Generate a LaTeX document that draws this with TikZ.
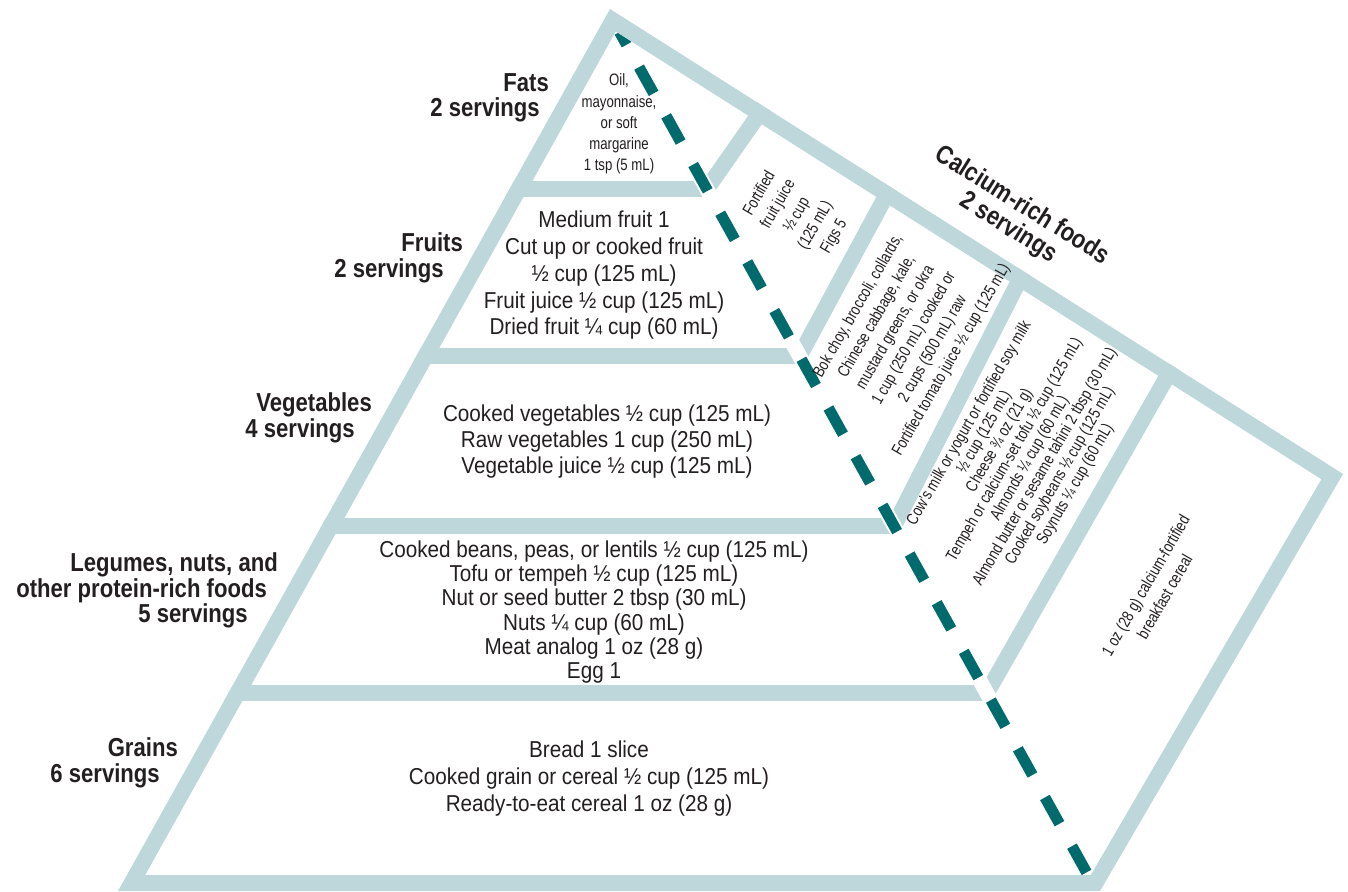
\documentclass[tikz,border=0pt]{standalone}
\usepackage{fontspec}
\setmainfont{Liberation Sans}
\newfontfamily\regf{Liberation Sans}[FakeStretch=0.9]
\newfontfamily\smf{Liberation Sans}[FakeStretch=0.8]
\newfontfamily\bldf{Liberation Sans}[FakeStretch=0.85]
\definecolor{ink}{HTML}{231F20}
\definecolor{barc}{HTML}{BDD7DB}
\definecolor{dashc}{HTML}{006A6C}
\begin{document}
\begin{tikzpicture}[x=1pt,y=-1pt,
  bar/.style={draw=barc,line width=16pt,line cap=butt},
  body/.style={font=\regf\fontsize{23}{#1}\selectfont,text=ink,align=center,inner sep=0pt},
  small/.style={font=\smf\fontsize{16.5}{#1}\selectfont,text=ink,align=center,inner sep=0pt},
  lbl/.style={font=\bldf\bfseries\fontsize{26}{26}\selectfont,text=ink,inner sep=0pt,anchor=base east},
  clbl/.style={font=\bldf\bfseries\fontsize{26}{#1}\selectfont,text=ink,align=center,inner sep=0pt}]
\useasboundingbox (0,0) rectangle (1348,891);
\fill[white] (0,0) rectangle (1348,891);
% outer frame
\coordinate (A) at (610,9);
\coordinate (BL) at (118,891);
\coordinate (BR) at (1100,891);
\coordinate (RC) at (1343,474);
% dashed pyramid side
\coordinate (D0) at (619.5,32);
\coordinate (D1) at (1088,875);
% meeting points of tier bars and calcium dividers
\coordinate (M1) at (706.7,189);
\coordinate (M2) at (799.5,356);
\coordinate (M3) at (894,526);
\coordinate (M4) at (986.8,693);
\coordinate (L1) at (0,189);
\coordinate (L2) at (0,356);
\coordinate (L3) at (0,526);
\coordinate (L4) at (0,693);
\begin{scope}
\clip (A)--(BL)--(BR)--(RC)--cycle;
\draw[bar] (L1) -- (M1);
\draw[bar] (L2) -- (M2);
\draw[bar] (L3) -- (M3);
\draw[bar] (L4) -- (M4);
\draw[bar] (M1) -- ++(0.70*150,-150);
\draw[bar] (M2) -- ++(0.54*250,-250);
\draw[bar] (M3) -- ++(0.51*350,-350);
\draw[bar] (M4) -- ++(0.57*450,-450);
\draw[white,line width=15pt] (D0) -- (D1);
\draw[dashc,line width=11pt,dash pattern=on 30pt off 25.7pt,dash phase=52.7pt] (D1) -- (D0);
\draw[barc,line width=32pt,line join=miter] (A)--(BL)--(BR)--(RC)--cycle;
\end{scope}
% tier labels
\node[lbl] (fa1) at (549,91) {Fats};
\node[lbl] (fa2) at (540,116) {2 servings};
\node[lbl] (fr1) at (463,251) {Fruits};
\node[lbl] (fr2) at (444,277) {2 servings};
\node[lbl] (ve1) at (372,411) {Vegetables};
\node[lbl] (ve2) at (355,437) {4 servings};
\node[lbl] (le1) at (278,571) {Legumes, nuts, and};
\node[lbl] (le2) at (267,597) {other protein-rich foods};
\node[lbl] (le3) at (248,622) {5 servings};
\node[lbl] (gr1) at (178,756) {Grains};
\node[lbl] (gr2) at (160,782) {6 servings};
\node[clbl=26,rotate=-32] (cal) at (1015,217) {Calcium-rich foods\\2 servings};
% tier contents
\node[small=21.25] (fats) at (619,124) {Oil,\\mayonnaise,\\or soft\\margarine\\1 tsp (5 mL)};
\node[body=26.75] (fruit) at (604,275.5) {Medium fruit 1\\Cut up or cooked fruit\\½ cup (125 mL)\\Fruit juice ½ cup (125 mL)\\Dried fruit ¼ cup (60 mL)};
\node[body=26] (veg) at (607,442) {Cooked vegetables ½ cup (125 mL)\\Raw vegetables 1 cup (250 mL)\\Vegetable juice ½ cup (125 mL)};
\node[body=24.2] (leg) at (594,612) {Cooked beans, peas, or lentils ½ cup (125 mL)\\Tofu or tempeh ½ cup (125 mL)\\Nut or seed butter 2 tbsp (30 mL)\\Nuts ¼ cup (60 mL)\\Meat analog 1 oz (28 g)\\Egg 1};
\node[body=27] (grain) at (589,779) {Bread 1 slice\\Cooked grain or cereal ½ cup (125 mL)\\Ready-to-eat cereal 1 oz (28 g)};
% calcium compartments
\node[small=21.5,rotate=60] (c1) at (797,215) {Fortified\\fruit juice\\½ cup\\(125 mL)\\Figs 5};
\node[small=21.5,rotate=60] (c2) at (905,333) {Bok choy, broccoli, collards,\\Chinese cabbage, kale,\\mustard greens, or okra\\1 cup (250 mL) cooked or\\2 cups (500 mL) raw\\Fortified tomato juice ½ cup (125 mL)};
\node[small=17.5,rotate=60] (c3) at (1022.5,454) {Cow’s milk or yogurt or fortified soy milk\\½ cup (125 mL)\\Cheese ¾ oz (21 g)\\Tempeh or calcium-set tofu ½ cup (125 mL)\\Almonds ¼ cup (60 mL)\\Almond butter or sesame tahini 2 tbsp (30 mL)\\Cooked soybeans ½ cup (125 mL)\\Soynuts ¼ cup (60 mL)};
\node[small=22,rotate=60] (c4) at (1155,591) {1 oz (28 g) calcium-fortified\\breakfast cereal};
\end{tikzpicture}
\end{document}
